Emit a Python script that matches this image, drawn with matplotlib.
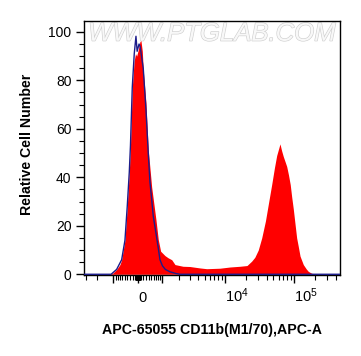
import numpy as np
import matplotlib
matplotlib.use("Agg")
import matplotlib.pyplot as plt
import matplotlib.patheffects as pe

plt.rcParams['font.family'] = ['Liberation Sans', 'DejaVu Sans']
plt.rcParams['mathtext.fontset'] = 'custom'
plt.rcParams['mathtext.rm'] = 'Liberation Sans'
plt.rcParams['mathtext.default'] = 'regular'

# APC-A values (sample, red filled histogram)
red_x = [-1300, -1030, -850, -700, -627, -492, -401, -323, -278, -210, -140, -90, -48, 20, 73,
         110, 160, 195, 297, 385, 520, 700, 803, 913, 1130, 1300, 1516, 1730, 2343, 3000, 4300,
         5380, 8400, 11800, 16470, 20800, 24300, 27000, 30300, 34000, 38500, 43000, 47400, 52000,
         56000, 60000, 62500, 66000, 69800, 74000, 78200, 83000, 88000, 92300, 97400, 103000,
         109000, 115000, 122000, 136000, 150000, 160600, 180000, 212000, 462000]
red_y = [0, 0.5, 2, 4, 6, 14, 28, 42, 53, 77, 88, 91, 90, 93, 96,
         96.4, 92, 84.3, 70.7, 51.4, 36, 22.5, 14.3, 9.5, 7.7, 6.8, 6, 4, 3.3, 3.2, 2.6,
         2.3, 2.5, 3.0, 3.3, 3.6, 5.4, 7, 10, 15, 22, 30, 37, 44,
         49, 52, 53.8, 51, 48.6, 46.5, 44.5, 41, 37, 32, 27, 21,
         15, 11.5, 7.5, 4, 2.2, 1.2, 0.4, 0, 0]

# control (blue outline)
blue_x = [-3300, -1120, -850, -627, -492, -401, -323, -278, -210, -136, -73, -30, 40, 80, 195,
          297, 385, 452, 520, 585, 700, 800, 881, 1000, 1150, 1413, 1800, 2094, 462000]
blue_y = [0, 0, 2, 6, 14, 28, 42, 53, 77, 91, 98.2, 92, 95, 94, 85,
          68, 50, 38, 31, 24, 17, 11, 6, 3.5, 2, 1.0, 0.3, 0, 0]

xticks_major = [-1000, 0, 1000, 1e4, 1e5]
xtick_labels = [('0', 0), ('$10^4$', 1e4), ('$10^5$', 1e5)]
xticks_minor = ([-3000, -2000] + list(range(-900, 0, 100)) + list(range(-90, 0, 10))
                + list(range(10, 100, 10)) + list(range(100, 1000, 100))
                + list(range(2000, 10000, 1000)) + list(range(20000, 100000, 10000))
                + [2e5, 3e5, 4e5])

W = 1100.0


def fwd(v):
    return np.arcsinh(np.asarray(v) / W)


def inv(u):
    return W * np.sinh(np.asarray(u))


fig = plt.figure(figsize=(3.61, 3.56), dpi=100)
ax = fig.add_axes([84 / 361, 1 - 275 / 356, 256 / 361, 254 / 356])
ax.set_xscale('function', functions=(fwd, inv))

ax.fill_between(red_x, red_y, 0, color='#ff0000', linewidth=0, zorder=2)
ax.plot(blue_x, blue_y, color='#1c1c8a', linewidth=1.0, zorder=3)

ax.set_xlim(-3230, 462000)
ax.set_ylim(-0.3, 104.5)

ax.set_xticks(xticks_major)
ax.set_xticklabels([])
ax.set_xticks(xticks_minor, minor=True)
ax.set_yticks(np.arange(0, 101, 20))
ax.set_yticks(np.arange(0, 101, 5), minor=True)
ax.tick_params(axis='both', which='major', length=6, width=1, direction='out')
ax.tick_params(axis='both', which='minor', length=3.5, width=0.8, direction='out')
ax.tick_params(axis='y', labelsize=10, pad=3)

for lab, v in xtick_labels:
    ax.text(v, -0.106, lab, transform=ax.get_xaxis_transform(), ha='left', va='baseline',
            fontsize=10.5)

for s in ax.spines.values():
    s.set_linewidth(1)

ax.text(0.5, 0.95, 'WWW.PTGLAB.COM', transform=ax.transAxes, ha='center', va='center',
        fontsize=18.5, fontstyle='italic', color='#f8f8f8', zorder=1,
        path_effects=[pe.withStroke(linewidth=0.9, foreground='#cfcfcf')])

fig.text(212 / 361, 1 - 330 / 356, 'APC-65055 CD11b(M1/70),APC-A', ha='center', va='center',
         fontsize=10.2, fontweight='bold')
fig.text(27 / 361, 1 - 144 / 356, 'Relative Cell Number', ha='center', va='center',
         rotation=90, fontsize=10.2, fontweight='bold')

fig.savefig('out.png', dpi=100)
